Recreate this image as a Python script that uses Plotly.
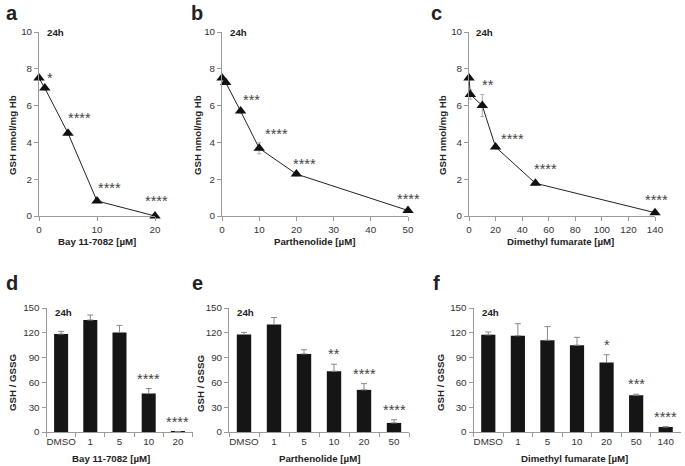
import plotly.graph_objects as go

W, H = 685, 466

# ---------------- data ----------------
# Top row: GSH nmol/mg Hb vs concentration
bay_conc = [0, 1, 5, 10, 20]
bay_gsh = [7.5, 6.95, 4.5, 0.82, 0.0]
bay_err = [0.1, 0.1, 0.1, 0.1, 0.05]
bay_stars = ["*", "****", "****", "****"]
bay_star_x = [1.9, 6.9, 12.1, 20.2]
bay_star_y = [7.5, 5.3, 1.5, 0.8]

par_conc = [0, 1, 5, 10, 20, 50]
par_gsh = [7.5, 7.25, 5.7, 3.68, 2.28, 0.3]
par_err = [0.1, 0.1, 0.1, 0.3, 0.1, 0.1]
par_stars = ["***", "****", "****", "****"]
par_star_x = [8.0, 14.7, 22.1, 50.2]
par_star_y = [6.3, 4.45, 2.85, 0.9]

dmf_conc = [0, 1, 10, 20, 50, 140]
dmf_gsh = [7.5, 6.6, 6.0, 3.75, 1.78, 0.18]
dmf_err = [0.1, 0.25, 0.6, 0.1, 0.1, 0.05]
dmf_stars = ["**", "****", "****", "****"]
dmf_star_x = [14.5, 32.6, 57.6, 141]
dmf_star_y = [7.1, 4.2, 2.55, 0.85]

# Bottom row: GSH / GSSG
bay_cats = ["DMSO", "1", "5", "10", "20"]
bay_ratio = [118.5, 135.5, 120.5, 46.5, 0.3]
bay_ratio_err = [3.2, 6.0, 8.5, 6.0, 0.0]
bay_ratio_stars = ["", "", "", "****", "****"]

par_cats = ["DMSO", "1", "5", "10", "20", "50"]
par_ratio = [118, 130, 94.5, 73.5, 51, 11]
par_ratio_err = [2.5, 8.5, 5.0, 8.5, 7.5, 3.8]
par_ratio_stars = ["", "", "", "**", "****", "****"]

dmf_cats = ["DMSO", "1", "5", "10", "20", "50", "140"]
dmf_ratio = [117.5, 116.5, 111, 105, 84, 44.5, 6]
dmf_ratio_err = [3.5, 14.5, 16.5, 9.5, 9.5, 1.2, 0.5]
dmf_ratio_stars = ["", "", "", "", "*", "***", "****"]

xtitles = ["Bay 11-7082 [µM]", "Parthenolide [µM]", "Dimethyl fumarate [µM]"]
letters_top = ["a", "b", "c"]
letters_bot = ["d", "e", "f"]

# ---------------- layout helpers ----------------
FONT = "Liberation Sans, Arial, sans-serif"
AX = "#9a9a9a"
TXT = "#333333"
TICKSIZE = 9.8
TITLESIZE = 9.7
STARSIZE = 14.5


def xd(l, r):
    return [l / W, r / W]


def yd(bot, top):
    return [1 - bot / H, 1 - top / H]


top_x_dom = [xd(39, 155), xd(222, 408), xd(469, 655)]
top_y_dom = yd(216, 32)
bot_x_dom = [xd(46.5, 192.5), xd(229, 409), xd(473.5, 680.5)]
bot_y_dom = yd(432, 308)

fig = go.Figure()
annotations = []

line_sets = [
    (bay_conc, bay_gsh, bay_err, bay_stars, bay_star_x, bay_star_y, [0, 20], 10),
    (par_conc, par_gsh, par_err, par_stars, par_star_x, par_star_y, [0, 50], 10),
    (dmf_conc, dmf_gsh, dmf_err, dmf_stars, dmf_star_x, dmf_star_y, [0, 140], 20),
]

common = dict(showline=True, linecolor=AX, linewidth=1, ticks="outside", ticklen=4,
              tickcolor=AX, showgrid=False, zeroline=False,
              tickfont=dict(family=FONT, size=TICKSIZE, color=TXT))

layout_axes = {}
for i, (xs, ys, es, st, sx, sy, rng, dt) in enumerate(line_sets):
    n = i + 1
    xa = "x" if n == 1 else f"x{n}"
    ya = "y" if n == 1 else f"y{n}"
    fig.add_trace(go.Scatter(
        x=xs, y=ys, mode="lines+markers", xaxis=xa, yaxis=ya,
        line=dict(color="#222222", width=1),
        marker=dict(symbol="triangle-up", size=10, color="#111111"),
        error_y=dict(type="data", array=es, color="#aaaaaa", thickness=1, width=2),
        cliponaxis=False, showlegend=False))
    # x-axis scale in px per unit, to keep labels beyond the last tick visible
    dom = top_x_dom[i]
    px_per_unit = (dom[1] - dom[0]) * W / (rng[1] - rng[0])
    for t, ax_, ay_ in zip(st, sx, sy):
        xin = min(ax_, rng[1])
        shift = (ax_ - xin) * px_per_unit
        annotations.append(dict(x=xin, y=ay_, xref=xa, yref=ya, text=t, showarrow=False,
                                xanchor="center", yanchor="middle", xshift=shift,
                                font=dict(family=FONT, size=STARSIZE, color="#444444")))
    layout_axes[f"xaxis{n}" if n > 1 else "xaxis"] = dict(
        domain=top_x_dom[i], range=rng, dtick=dt, tick0=0, anchor=ya, **common)
    layout_axes[f"yaxis{n}" if n > 1 else "yaxis"] = dict(
        domain=top_y_dom, range=[0, 10], dtick=2, tick0=0, anchor=xa, **common)

bar_sets = [
    (bay_cats, bay_ratio, bay_ratio_err, bay_ratio_stars),
    (par_cats, par_ratio, par_ratio_err, par_ratio_stars),
    (dmf_cats, dmf_ratio, dmf_ratio_err, dmf_ratio_stars),
]
for i, (cats, vals, errs, st) in enumerate(bar_sets):
    n = i + 4
    xa = f"x{n}"
    ya = f"y{n}"
    fig.add_trace(go.Bar(
        x=cats, y=vals, xaxis=xa, yaxis=ya, width=0.48,
        marker=dict(color="#151515", line=dict(width=0)),
        error_y=dict(type="data", symmetric=False, array=errs, arrayminus=[0] * len(errs),
                     color="#888888", thickness=1, width=3),
        showlegend=False))
    for k, (v, e, t) in enumerate(zip(vals, errs, st)):
        if t:
            annotations.append(dict(x=k, y=v + e, xref=xa, yref=ya, text=t, showarrow=False,
                                    xanchor="center", yanchor="bottom", yshift=0,
                                    font=dict(family=FONT, size=STARSIZE, color="#444444")))
    layout_axes[f"xaxis{n}"] = dict(domain=bot_x_dom[i], type="category", tickson="boundaries",
                                    range=[-0.5, len(cats) - 0.5], tickangle=0,
                                    anchor=ya, **common)
    layout_axes[f"yaxis{n}"] = dict(domain=bot_y_dom, range=[0, 150], dtick=30, tick0=0,
                                    anchor=xa, **common)

# axis titles, "24h" labels, panel letters
ytitle_x_top = [12, 197, 442]
ytitle_x_bot = [12, 200, 440]
xtitle_x_top = [97, 314, 560]
xtitle_x_bot = [111, 319, 574]
letter_x = [12, 197, 436]
h24_x_top = [45, 228, 474]
h24_x_bot = [53, 235, 480]


def paper_text(x, y, text, size, angle=0, anchor="center", yanchor="middle"):
    return dict(x=x / W, y=1 - y / H, xref="paper", yref="paper", text=text,
                textangle=angle, showarrow=False, xanchor=anchor, yanchor=yanchor,
                font=dict(family=FONT, size=size, color="#222222"))


for i in range(3):
    annotations.append(paper_text(ytitle_x_top[i], 135, "<b>GSH nmol/mg Hb</b>", TITLESIZE, -90))
    annotations.append(paper_text(ytitle_x_bot[i], 383, "<b>GSH / GSSG</b>", TITLESIZE, -90))
    annotations.append(paper_text(xtitle_x_top[i], 241, f"<b>{xtitles[i]}</b>", TITLESIZE))
    annotations.append(paper_text(xtitle_x_bot[i], 458, f"<b>{xtitles[i]}</b>", TITLESIZE))
    annotations.append(paper_text(letter_x[i], 0, f"<b>{letters_top[i]}</b>", 20, yanchor="top"))
    annotations.append(paper_text(letter_x[i], 283, f"<b>{letters_bot[i]}</b>", 20))
    annotations.append(paper_text(h24_x_top[i], 33, "<b>24h</b>", TITLESIZE, anchor="left"))
    annotations.append(paper_text(h24_x_bot[i], 312, "<b>24h</b>", TITLESIZE, anchor="left"))

fig.update_layout(
    width=W, height=H,
    margin=dict(l=0, r=0, t=0, b=0, autoexpand=False),
    paper_bgcolor="white", plot_bgcolor="white",
    font=dict(family=FONT),
    annotations=annotations,
    **layout_axes,
)

fig.write_html("out.html",
               config={"displayModeBar": False},
               post_script="document.body.style.margin='0px';document.body.style.overflow='hidden';")
